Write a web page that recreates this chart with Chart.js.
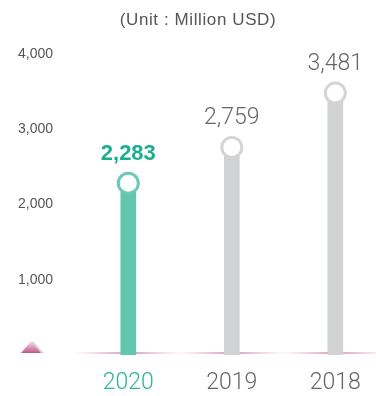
<!DOCTYPE html>
<html>
<head>
<meta charset="utf-8">
<script src="https://cdn.jsdelivr.net/npm/chart.js@4"></script>
<style>
  body { margin: 0; background: #fff; }
</style>
</head>
<body>
<canvas id="chart" width="376" height="396"></canvas>
<script>
// 연도별 금액 (단위: 백만 달러)
const years = ['2020', '2019', '2018'];
const amounts = [2283, 2759, 3481];
const yTicks = [1000, 2000, 3000, 4000];

const TEAL = '#63c6ae';
const TEAL_TEXT = '#1cae8e';
const GRAY = '#d1d2d4';
const GRAY_TEXT = '#666';
const FONT = '"Liberation Sans", Arial, sans-serif';
const LIGHT = 'Roboto, "Liberation Sans", sans-serif';

const points = years.map((y, i) => ({ x: i, y: amounts[i] }));

// 제목, 바닥선, 왼쪽 삼각형
const decor = {
  id: 'decor',
  beforeDatasetsDraw(chart) {
    const c = chart.ctx;
    const xs = chart.scales.x;
    const y0 = chart.scales.y.getPixelForValue(0) - 2;
    c.save();
    c.fillStyle = '#555';
    c.font = '17px ' + FONT;
    c.letterSpacing = '0.6px';
    c.textAlign = 'center';
    c.textBaseline = 'middle';
    c.fillText('(Unit : Million USD)', 198, 20);
    c.letterSpacing = '0px';

    years.forEach((y, i) => {
      const cx = xs.getPixelForValue(i);
      const g = c.createLinearGradient(cx - 55, 0, cx + 55, 0);
      g.addColorStop(0, 'rgba(214,150,185,0)');
      g.addColorStop(0.5, 'rgba(205,120,165,0.75)');
      g.addColorStop(1, 'rgba(214,150,185,0)');
      c.fillStyle = g;
      c.fillRect(cx - 55, y0 - 1, 110, 2);
    });

    // 삼각형 그림자
    c.fillStyle = 'rgba(190,190,190,0.6)';
    c.beginPath();
    c.moveTo(23, y0);
    c.lineTo(44, y0);
    c.lineTo(33, y0 - 12);
    c.closePath();
    c.fill();
    const tg = c.createLinearGradient(0, y0 - 12, 0, y0);
    tg.addColorStop(0, '#f3e6ee');
    tg.addColorStop(1, '#c2558c');
    c.fillStyle = tg;
    c.beginPath();
    c.moveTo(21, y0);
    c.lineTo(41, y0);
    c.lineTo(31, y0 - 12);
    c.closePath();
    c.fill();
    c.restore();
  },
  afterDatasetsDraw(chart) {
    const c = chart.ctx;
    const meta = chart.getDatasetMeta(1);
    c.save();
    c.textAlign = 'center';
    c.textBaseline = 'middle';
    meta.data.forEach((el, i) => {
      if (i === 0) {
        c.fillStyle = TEAL_TEXT;
        c.font = 'bold 22px ' + FONT;
      } else {
        c.fillStyle = GRAY_TEXT;
        c.font = '300 23px ' + LIGHT;
      }
      c.fillText(amounts[i].toLocaleString('en-US'), el.x, el.y - 29);
    });
    c.restore();
  }
};

new Chart(document.getElementById('chart'), {
  data: {
    datasets: [{
      type: 'bar',
      data: points,
      backgroundColor: years.map((y, i) => i === 0 ? TEAL : GRAY),
      barThickness: 15,
      order: 2
    }, {
      type: 'line',
      data: points,
      showLine: false,
      pointRadius: 10,
      pointBorderWidth: 3,
      pointBackgroundColor: '#fff',
      pointBorderColor: years.map((y, i) => i === 0 ? '#6ccab4' : '#d4d4d6'),
      clip: false,
      order: 1
    }]
  },
  options: {
    responsive: false,
    animation: false,
    layout: { padding: { top: 54, left: 0, right: 0, bottom: 0 } },
    plugins: {
      legend: { display: false },
      tooltip: { enabled: false }
    },
    scales: {
      x: {
        type: 'linear',
        offset: false,
        min: -0.66,
        max: 2.26,
        grid: { display: false, drawTicks: false },
        border: { display: false },
        afterBuildTicks: s => { s.ticks = years.map((y, i) => ({ value: i })); },
        afterFit: s => { s.height = 41; },
        ticks: {
          autoSkip: false,
          maxRotation: 0,
          padding: 14,
          font: { family: LIGHT, size: 23, weight: '300' },
          color: ctx => ctx.index === 0 ? '#2bb496' : GRAY_TEXT,
          callback: v => years[v]
        }
      },
      y: {
        min: 0,
        max: 4000,
        grid: { display: false, drawTicks: false },
        border: { display: false },
        afterBuildTicks: s => { s.ticks = [0, ...yTicks].map(v => ({ value: v })); },
        afterFit: s => { s.width = 60; },
        ticks: {
          padding: 7,
          color: '#555',
          font: { family: FONT, size: 14 },
          callback: v => v === 0 ? '' : v.toLocaleString('en-US')
        }
      }
    }
  },
  plugins: [decor]
});
</script>
</body>
</html>
